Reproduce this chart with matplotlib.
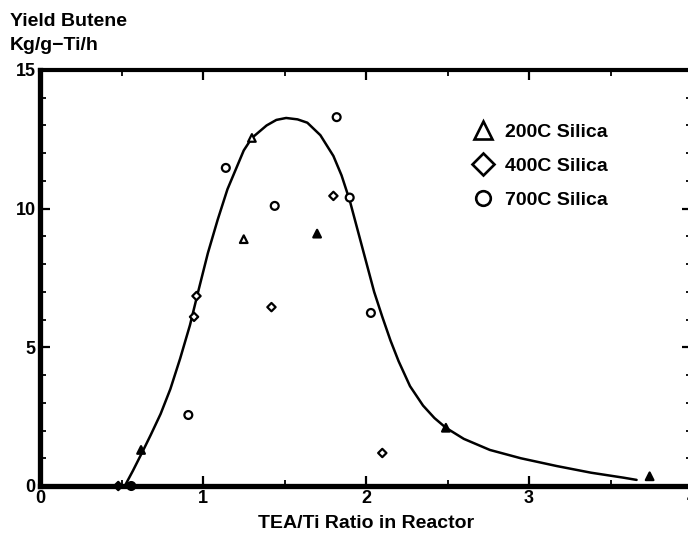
import matplotlib
matplotlib.use("Agg")
import matplotlib.pyplot as plt
from matplotlib.lines import Line2D

plt.rcParams['font.family'] = ['Liberation Sans', 'DejaVu Sans']
plt.rcParams['font.weight'] = 'bold'

# ---- data ----
tri_x = [0.62, 1.25, 1.30, 1.70, 2.49, 3.74]
tri_y = [1.3, 8.9, 12.55, 9.1, 2.1, 0.35]
tri_filled = [True, False, False, True, True, True]

dia_x = [0.48, 0.945, 0.96, 1.42, 1.80, 2.10]
dia_y = [0.0, 6.1, 6.85, 6.45, 10.46, 1.19]
dia_filled = [True, False, False, False, False, False]

cir_x = [0.56, 0.91, 1.14, 1.44, 1.82, 1.90, 2.03]
cir_y = [0.0, 2.56, 11.47, 10.1, 13.3, 10.4, 6.24]
cir_filled = [True, False, False, False, False, False, False]

curve_x = [0.52, 0.57, 0.63, 0.68, 0.74, 0.80, 0.86, 0.92, 0.97, 1.03, 1.09, 1.15,
           1.20, 1.25, 1.30, 1.39, 1.45, 1.51, 1.58, 1.64, 1.72, 1.80, 1.85, 1.90,
           1.95, 2.00, 2.05, 2.10, 2.15, 2.20, 2.27, 2.35, 2.42, 2.49, 2.60, 2.76,
           2.95, 3.17, 3.38, 3.58, 3.66]
curve_y = [0.0, 0.55, 1.25, 1.85, 2.6, 3.5, 4.6, 5.8, 7.0, 8.4, 9.6, 10.7,
           11.4, 12.1, 12.55, 13.0, 13.2, 13.27, 13.22, 13.1, 12.65, 11.9, 11.2, 10.3,
           9.2, 8.1, 7.0, 6.1, 5.25, 4.5, 3.6, 2.9, 2.45, 2.1, 1.7, 1.3,
           1.0, 0.72, 0.48, 0.3, 0.22]

labels = ['200C Silica', '400C Silica', '700C Silica']
x_ticks = [0, 1, 2, 3, 4]
y_ticks = [0, 5, 10, 15]

# ---- figure ----
fig = plt.figure(figsize=(6.88, 5.36), dpi=100)
ax = fig.add_axes([40 / 688, 50 / 536, 652 / 688, 416 / 536])

ax.plot(curve_x, curve_y, color='black', lw=1.8, zorder=2,
        solid_joinstyle='round', solid_capstyle='round')

def scat(x, y, filled, marker, size):
    fc = ['black' if f else 'white' for f in filled]
    ax.scatter(x, y, marker=marker, s=size, facecolors=fc, edgecolors='black',
               linewidths=1.6, zorder=3, clip_on=False)

scat(tri_x, tri_y, tri_filled, '^', 30)
scat(dia_x, dia_y, dia_filled, 'D', 18)
scat(cir_x, cir_y, cir_filled, 'o', 32)

ax.set_xlim(0, 4)
ax.set_ylim(0, 15)
ax.set_xticks(x_ticks)
ax.set_yticks(y_ticks)
ax.set_xticklabels([str(t) for t in x_ticks])
ax.set_yticklabels([str(t) for t in y_ticks])
ax.set_xticks([0.5, 1.5, 2.5, 3.5], minor=True)
ax.set_yticks([v for v in range(1, 15) if v % 5], minor=True)

ax.tick_params(which='both', direction='in', top=True, right=True, color='black')
ax.tick_params(which='major', length=7, width=1.6, labelsize=13)
ax.tick_params(axis='x', which='major', pad=3)
ax.tick_params(axis='y', which='major', pad=3)
ax.tick_params(which='minor', length=4, width=1.3)

for side in ['left', 'bottom']:
    ax.spines[side].set_linewidth(3.8)
for side in ['top', 'right']:
    ax.spines[side].set_linewidth(3.0)

# legend
handles = [
    Line2D([], [], ls='none', marker='^', ms=13, mfc='white', mec='black', mew=1.9),
    Line2D([], [], ls='none', marker='D', ms=11, mfc='white', mec='black', mew=1.9),
    Line2D([], [], ls='none', marker='o', ms=10.5, mfc='white', mec='black', mew=1.9),
]
ax.legend(handles, labels, loc='upper left', bbox_to_anchor=(0.64, 0.905),
          frameon=False, fontsize=14, handletextpad=0.55, labelspacing=0.85,
          handlelength=1.2, borderpad=0.2)

fig.text(10 / 688, 1 - 22 / 536, 'Yield Butene', fontsize=14, fontweight='bold',
         ha='left', va='center')
fig.text(10 / 688, 1 - 46 / 536, 'Kg/g\u2212Ti/h', fontsize=14, fontweight='bold',
         ha='left', va='center')
ax.set_xlabel('TEA/Ti Ratio in Reactor', fontsize=14, fontweight='bold', labelpad=6)

fig.savefig('out.png', dpi=100)
